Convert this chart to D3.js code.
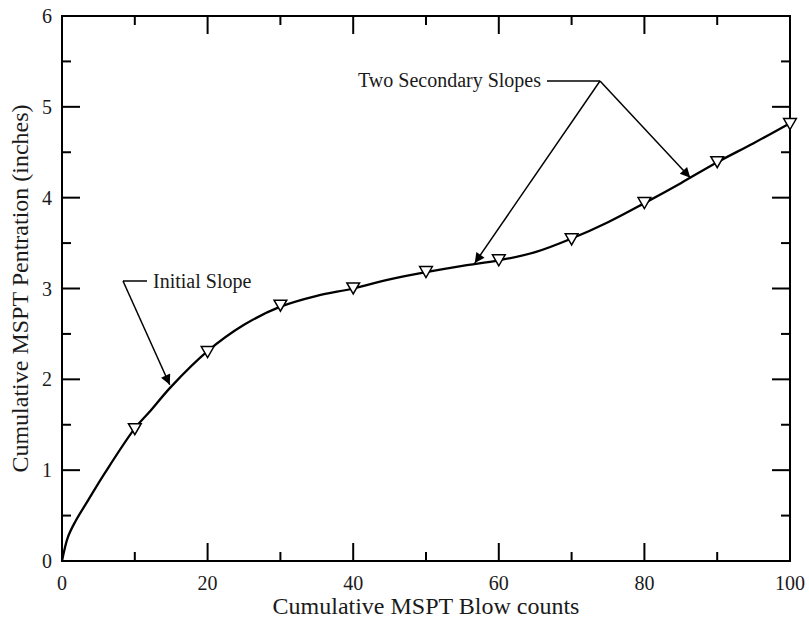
<!DOCTYPE html>
<html><head><meta charset="utf-8">
<script src="https://cdn.jsdelivr.net/npm/d3@7"></script>
<style>body{margin:0;background:#fff}svg{display:block;font-family:"Liberation Serif","Times New Roman",serif}</style>
</head><body><svg id="c" width="809" height="624"></svg>
<script>
const blowCounts = [10,20,30,40,50,60,70,80,90,100];
const penetration = [1.46,2.31,2.82,3.01,3.19,3.32,3.55,3.95,4.40,4.82];
const curveX = [0,0.8,1.8,3.6,5.9,10,12,15,20,25,30,35,40,45,50,55,60,65,70,75,80,85,90,95,100];
const curveY = [0,0.26,0.43,0.67,0.97,1.46,1.64,1.92,2.31,2.6,2.8,2.92,3.0,3.1,3.18,3.25,3.31,3.4,3.55,3.73,3.94,4.16,4.39,4.6,4.82];
const xTicks = [0,20,40,60,80,100];
const yTicks = [0,1,2,3,4,5,6];
const xTitle = "Cumulative MSPT Blow counts";
const yTitle = "Cumulative MSPT Pentration (inches)";
const noteInitial = "Initial Slope";
const noteSecondary = "Two Secondary Slopes";

const svg = d3.select("#c");
const L=62,R=790,T=16,B=561;
const x = d3.scaleLinear().domain([0,100]).range([L,R]);
const y = d3.scaleLinear().domain([0,6]).range([B,T]);
const ink = "#1a1a1a";

svg.append("rect").attr("x",L).attr("y",T).attr("width",R-L).attr("height",B-T)
  .attr("fill","none").attr("stroke","#000").attr("stroke-width",2);

const minorX = d3.range(10,100,20), minorY = d3.range(0.5,6,1);
const tk = svg.append("g").attr("stroke","#000").attr("stroke-width",2);
xTicks.slice(1,-1).forEach(v=>{
  tk.append("line").attr("x1",x(v)).attr("x2",x(v)).attr("y1",B).attr("y2",B-18);
  tk.append("line").attr("x1",x(v)).attr("x2",x(v)).attr("y1",T).attr("y2",T+18);
});
minorX.forEach(v=>{
  tk.append("line").attr("x1",x(v)).attr("x2",x(v)).attr("y1",B).attr("y2",B-9);
  tk.append("line").attr("x1",x(v)).attr("x2",x(v)).attr("y1",T).attr("y2",T+9);
});
yTicks.slice(1,-1).forEach(v=>{
  tk.append("line").attr("y1",y(v)).attr("y2",y(v)).attr("x1",L).attr("x2",L+18);
  tk.append("line").attr("y1",y(v)).attr("y2",y(v)).attr("x1",R).attr("x2",R-18);
});
minorY.forEach(v=>{
  tk.append("line").attr("y1",y(v)).attr("y2",y(v)).attr("x1",L).attr("x2",L+9);
  tk.append("line").attr("y1",y(v)).attr("y2",y(v)).attr("x1",R).attr("x2",R-9);
});

svg.append("g").selectAll("text").data(xTicks).join("text")
  .attr("x",d=>x(d)).attr("y",590).attr("text-anchor","middle")
  .attr("font-size",20).attr("fill",ink).text(d=>d);
svg.append("g").selectAll("text").data(yTicks).join("text")
  .attr("x",52).attr("y",d=>y(d)+7).attr("text-anchor","end")
  .attr("font-size",20).attr("fill",ink).text(d=>d);

svg.append("text").attr("x",x(50)).attr("y",614).attr("text-anchor","middle")
  .attr("font-size",24).attr("fill",ink).text(xTitle);
svg.append("text").attr("transform",`translate(28,${(T+B)/2}) rotate(-90)`)
  .attr("text-anchor","middle").attr("font-size",24).attr("fill",ink).text(yTitle);

const pts = curveX.map((v,i)=>[v,curveY[i]]);
svg.append("path").datum(pts)
  .attr("d",d3.line().x(d=>x(d[0])).y(d=>y(d[1])).curve(d3.curveCatmullRom.alpha(0.5)))
  .attr("fill","none").attr("stroke","#000").attr("stroke-width",2.3);

const tri = d3.symbol().type(d3.symbolTriangle).size(70);
svg.append("g").selectAll("path").data(blowCounts).join("path")
  .attr("transform",(d,i)=>`translate(${x(d)},${y(penetration[i])-1}) rotate(180)`)
  .attr("d",tri).attr("fill","#fff").attr("stroke","#000").attr("stroke-width",1.5);

const defs = svg.append("defs");
defs.append("marker").attr("id","ah").attr("viewBox","0 0 10 10").attr("refX",10).attr("refY",5)
  .attr("markerWidth",14).attr("markerHeight",10).attr("markerUnits","userSpaceOnUse").attr("orient","auto")
  .append("path").attr("d","M0,0L10,5L0,10Z").attr("fill","#000");

const ann = svg.append("g").attr("stroke","#000").attr("stroke-width",1.5).attr("fill","none");
ann.append("line").attr("x1",L+85).attr("y1",281).attr("x2",L+61).attr("y2",281);
ann.append("line").attr("x1",L+61).attr("y1",281).attr("x2",x(14.8)).attr("y2",y(1.94)).attr("marker-end","url(#ah)");
ann.append("line").attr("x1",547).attr("y1",81).attr("x2",600).attr("y2",81);
ann.append("line").attr("x1",600).attr("y1",81).attr("x2",x(56.7)).attr("y2",y(3.28)).attr("marker-end","url(#ah)");
ann.append("line").attr("x1",600).attr("y1",81).attr("x2",x(86.3)).attr("y2",y(4.22)).attr("marker-end","url(#ah)");

svg.append("text").attr("x",153).attr("y",288).attr("font-size",20).attr("fill",ink).text(noteInitial);
svg.append("text").attr("x",358).attr("y",87).attr("font-size",20).attr("fill",ink).text(noteSecondary);
</script></body></html>
